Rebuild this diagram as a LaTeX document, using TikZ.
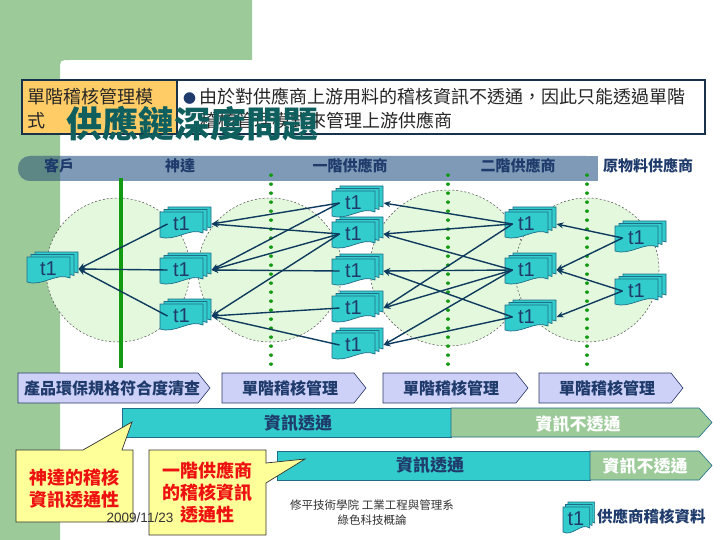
\documentclass[tikz,border=0pt]{standalone}
\usepackage{fontspec}
\setmainfont{Noto Sans CJK TC}
\newfontfamily\lat{Liberation Sans}
\usetikzlibrary{arrows.meta,calc}
\definecolor{bggreen}{HTML}{9CCB99}
\definecolor{cellorange}{HTML}{FFCC66}
\definecolor{boxline}{HTML}{17324A}
\definecolor{titlecol}{HTML}{0F5F5F}
\definecolor{bandblue}{HTML}{7E9AB6}
\definecolor{banddark}{HTML}{5C8784}
\definecolor{navytext}{HTML}{1F3B6B}
\definecolor{vgreen}{HTML}{129A12}
\definecolor{circfill}{HTML}{E4F8DD}
\definecolor{docteal}{HTML}{33CCCC}
\definecolor{docline}{HTML}{1F6D88}
\definecolor{arrcol}{HTML}{0E3B5E}
\definecolor{lavender}{HTML}{CDD0F7}
\definecolor{lavline}{HTML}{2A3A6A}
\definecolor{callyellow}{HTML}{FFFF99}
\definecolor{callred}{HTML}{EE1111}
\definecolor{foottext}{HTML}{333333}
\tikzset{
  docsty/.style={fill=docteal, draw=docline, line width=0.7pt},
  t1sty/.style={inner sep=0pt, font=\lat\fontsize{20}{22}\selectfont, text=navytext},
  arr/.style={draw=arrcol, line width=1.4pt, -{Stealth[length=7pt,width=6pt]}},
  zone/.style={fill=circfill, draw=black!70, line width=0.5pt, dash pattern=on 2pt off 2pt},
  dotline/.style={draw=vgreen, line width=3.2pt, line cap=round, dash pattern=on 0.3pt off 8.7pt},
  headtxt/.style={font=\bfseries\fontsize{15}{17}\selectfont, text=navytext},
  chev/.style={fill=lavender, draw=lavline, line width=0.6pt},
  chevtxt/.style={font=\bfseries\fontsize{16}{18}\selectfont, text=navytext},
  bartxt/.style={font=\bfseries\fontsize{17}{19}\selectfont},
  callout/.style={fill=callyellow, draw=black!80, line width=0.7pt},
  calltxt/.style={font=\bfseries\fontsize{18}{22}\selectfont, text=callred, align=center},
  boxtxt/.style={anchor=west, inner sep=0pt, font=\fontsize{18}{20}\selectfont, text=black!85}
}
\newcommand\docat[2]{\begin{scope}[shift={(#1,#2)}]\filldraw[docsty] (0,0) -- (43,0) -- (43,21) .. controls (30,15) and (15,30) .. (0,25) -- cycle;\end{scope}}
\newcommand\stackat[3]{\docat{#2+8}{#3-5}\docat{#2+4}{#3-2.5}\docat{#2}{#3}\node[t1sty] (#1) at (#2+21.5,#3+12) {t1};}
\begin{document}
\begin{tikzpicture}[x=1pt,y=-1pt]
\useasboundingbox (0,0) rectangle (720,540);
\fill[white] (0,0) rectangle (720,540);
% green background frame
\fill[bggreen] (0,0) -- (252,0) -- (252,60) -- (70,60) .. controls (60,60) .. (60,70) -- (60,540) -- (0,540) -- cycle;
% top box
\fill[white] (177,80) rectangle (705,134);
\fill[cellorange] (22,80) rectangle (177,134);
\draw[boxline, line width=1.5pt] (22,80) rectangle (705,134);
\draw[boxline, line width=1.2pt] (177,80) -- (177,134);
\node[boxtxt] (m1) at (27,97) {單階稽核管理模};
\node[boxtxt] (m2) at (27,121) {式};
\node[boxtxt] (b1) at (183,97) {\textcolor{navytext}{\fontsize{13}{13}\selectfont ●}\hspace{3pt}由於對供應商上游用料的稽核資訊不透通，因此只能透過單階};
\node[boxtxt] (b2) at (200,120) {稽核管理模式來管理上游供應商};
\node[font=\bfseries\fontsize{36}{40}\selectfont, text=titlecol, inner sep=0pt] (title) at (192,124) {供應鏈深度問題};
% header band
\fill[bandblue, rounded corners=12pt] (18,156) rectangle (598,181);
\fill[bandblue] (570,156) rectangle (598,181);
\begin{scope}
\clip (0,150) rectangle (60,190);
\fill[banddark, rounded corners=12pt] (18,156) rectangle (598,181);
\end{scope}
\node[headtxt] (hk) at (59,166) {客戶};
\node[headtxt] (hs) at (180,166) {神達};
\node[headtxt] (ha) at (350,166) {一階供應商};
\node[headtxt] (hb) at (518,166) {二階供應商};
\node[headtxt] (hr) at (648,166) {原物料供應商};
% zones
\path[zone] (118,270) circle (72);
\path[zone] (270,270) circle (72);
\path[zone] (448,268) circle (78);
\path[zone] (587,270) circle (72);
% vertical lines
\draw[vgreen, line width=3.6pt] (121,178) -- (121,368);
\draw[dotline] (271,175) -- (271,366);
\draw[dotline] (448,175) -- (448,366);
\draw[dotline] (587,175) -- (587,366);
% stacks
\stackat{k}{27}{257}
\stackat{s1}{160}{212}
\stackat{s2}{160}{258}
\stackat{s3}{160}{304}
\stackat{a1}{332}{191}
\stackat{a2}{332}{222}
\stackat{a3}{332}{259}
\stackat{a4}{332}{296}
\stackat{a5}{332}{333}
\stackat{b1}{505}{212}
\stackat{b2}{505}{258}
\stackat{b3}{505}{305}
\stackat{r1}{615}{226}
\stackat{r2}{615}{279}
% arrows
\foreach \s/\d in {s1/k,s2/k,s3/k,
  a1/s1,a2/s1,a1/s2,a2/s2,a3/s2,a2/s3,a4/s3,a5/s3,
  b1/a1,b1/a2,b2/a2,b2/a3,b3/a3,b1/a4,b2/a4,b2/a5,b3/a5,
  r1/b1,r1/b2,r2/b2,r2/b3}
  \draw[arr] ([xshift=-14pt]\s.center) -- ([xshift=30pt]\d.center);
% chevrons
\draw[chev] (18,373) -- (198,373) -- (210,388) -- (198,403) -- (18,403) -- cycle;
\node[chevtxt] (c1) at (112,388) {產品環保規格符合度清查};
\draw[chev] (222,373) -- (354,373) -- (366,388) -- (354,403) -- (222,403) -- cycle;
\node[chevtxt] (c2) at (290,388) {單階稽核管理};
\draw[chev] (383,373) -- (516,373) -- (528,388) -- (516,403) -- (383,403) -- cycle;
\node[chevtxt] (c3) at (451,388) {單階稽核管理};
\draw[chev] (539,373) -- (671,373) -- (683,388) -- (671,403) -- (539,403) -- cycle;
\node[chevtxt] (c4) at (607,388) {單階稽核管理};
% info bars
\draw[fill=docteal, draw=docline, line width=0.6pt] (122,408) rectangle (451,437);
\draw[fill=bggreen, draw=docline, line width=0.6pt] (451,408) -- (699,408) -- (712,422.5) -- (699,437) -- (451,437) -- cycle;
\node[bartxt, text=navytext] (t1a) at (298,423) {資訊透通};
\node[bartxt, text=white] (t1b) at (578,424) {資訊不透通};
\draw[fill=docteal, draw=docline, line width=0.6pt] (277,451) rectangle (590,480);
\draw[fill=bggreen, draw=docline, line width=0.6pt] (590,451) -- (699,451) -- (712,465.5) -- (699,480) -- (590,480) -- cycle;
\node[bartxt, text=navytext] (t2a) at (430,465) {資訊透通};
\node[bartxt, text=white] (t2b) at (645,466) {資訊不透通};
% callouts
\draw[callout] (16,450) -- (83,450) -- (132,422) -- (122,450) -- (133,450) -- (133,522) -- (16,522) -- cycle;
\node[calltxt] (q1) at (74,489) {神達的稽核\\資訊透通性};
\draw[callout] (149,450) -- (266,450) -- (266,463) -- (305,459) -- (266,483) -- (266,535) -- (149,535) -- cycle;
\node[calltxt] (q2) at (207,493) {一階供應商\\的稽核資訊\\透通性};
% footer
\node[font=\lat\fontsize{13.5}{15}\selectfont, text=foottext, inner sep=0pt] (date) at (140,518) {2009/11/23};
\node[font=\fontsize{11.5}{15}\selectfont, text=foottext, align=center, inner sep=0pt] (foot) at (372,513) {修平技術學院 工業工程與管理系\\綠色科技概論};
% legend
\begin{scope}[shift={(563,507)}, xscale=0.62]
\filldraw[docsty] (8,-5) -- (51,-5) -- (51,16) .. controls (38,10) and (23,25) .. (8,20) -- cycle;
\filldraw[docsty] (4,-2.5) -- (47,-2.5) -- (47,18.5) .. controls (34,12.5) and (19,27.5) .. (4,22.5) -- cycle;
\filldraw[docsty] (0,0) -- (43,0) -- (43,21) .. controls (30,15) and (15,30) .. (0,25) -- cycle;
\end{scope}
\node[t1sty] (leg) at (576,519) {t1};
\node[font=\bfseries\fontsize{15.5}{17}\selectfont, text=navytext, anchor=west, inner sep=0pt] (legtxt) at (597,517) {供應商稽核資料};
\end{tikzpicture}
\end{document}
